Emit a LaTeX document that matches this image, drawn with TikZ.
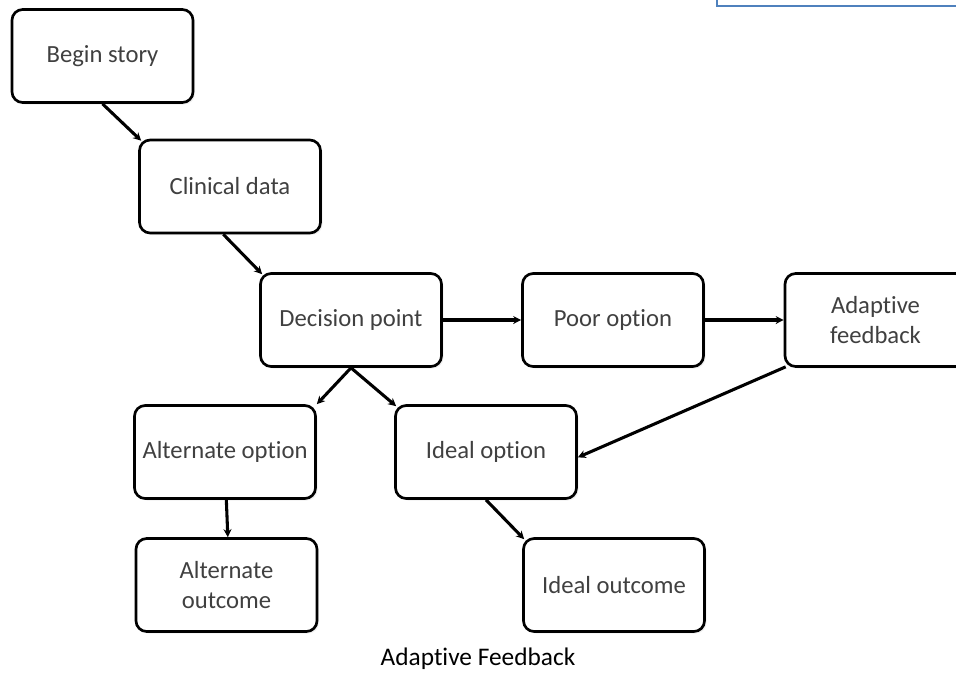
\documentclass[tikz,border=0pt]{standalone}
\usepackage{fontspec}
\setmainfont{Carlito}[Ligatures=NoCommon]
\usetikzlibrary{arrows.meta,shadows}
\definecolor{boxtext}{HTML}{404040}
\definecolor{frameblue}{HTML}{4F81BD}
\tikzset{
  flowbox/.style={draw=black, line width=2pt, rounded corners=8pt, fill=white,
    minimum width=135.75pt, minimum height=69.75pt, inner sep=2pt,
    align=center, text=boxtext, font=\fontsize{18.5}{22.5}\selectfont,
    drop shadow={opacity=0.12, shadow xshift=1.5pt, shadow yshift=-1.5pt}},
  flowarrow/.style={draw=black, line width=2.3pt, -{Stealth[length=6pt,width=6pt]}}
}
\begin{document}
\begin{tikzpicture}[x=0.75pt,y=-0.75pt]
\useasboundingbox (0,0) rectangle (956,672);
\draw[frameblue, line width=1.8pt] (717,-20) rectangle (980,6);
\node[flowbox] (begin) at (102.5,56) {Begin story};
\node[flowbox] (clinical) at (230,186.5) {Clinical data};
\node[flowbox] (decision) at (351,320) {Decision point};
\node[flowbox] (poor) at (613,320) {Poor option};
\node[flowbox] (adaptive) at (875.5,320) {Adaptive\\feedback};
\node[flowbox] (altopt) at (225,452) {Alternate option};
\node[flowbox] (altout) at (226.5,585) {Alternate\\outcome};
\node[flowbox] (idealopt) at (486,452) {Ideal option};
\node[flowbox] (idealout) at (614,585) {Ideal outcome};
\node[font=\fontsize{19}{22}\selectfont, text=black, anchor=base] (title) at (478,665) {Adaptive Feedback};
\draw[flowarrow] (begin.south) -- ([shift={(3,2)}]clinical.north west);
\draw[flowarrow] ([xshift=-5pt]clinical.south) -- ([shift={(3,2)}]decision.north west);
\draw[flowarrow] (decision.east) -- (poor.west);
\draw[flowarrow] (poor.east) -- (adaptive.west);
\draw[flowarrow] (decision.south) -- (altopt.north east);
\draw[flowarrow] (decision.south) -- ([shift={(2,2)}]idealopt.north west);
\draw[flowarrow] ([shift={(2,-1)}]adaptive.south west) -- ([yshift=-4pt]idealopt.east);
\draw[flowarrow] ([xshift=1pt]altopt.south) -- ([xshift=1pt]altout.north);
\draw[flowarrow] (idealopt.south) -- ([shift={(2,2)}]idealout.north west);
\end{tikzpicture}
\end{document}
